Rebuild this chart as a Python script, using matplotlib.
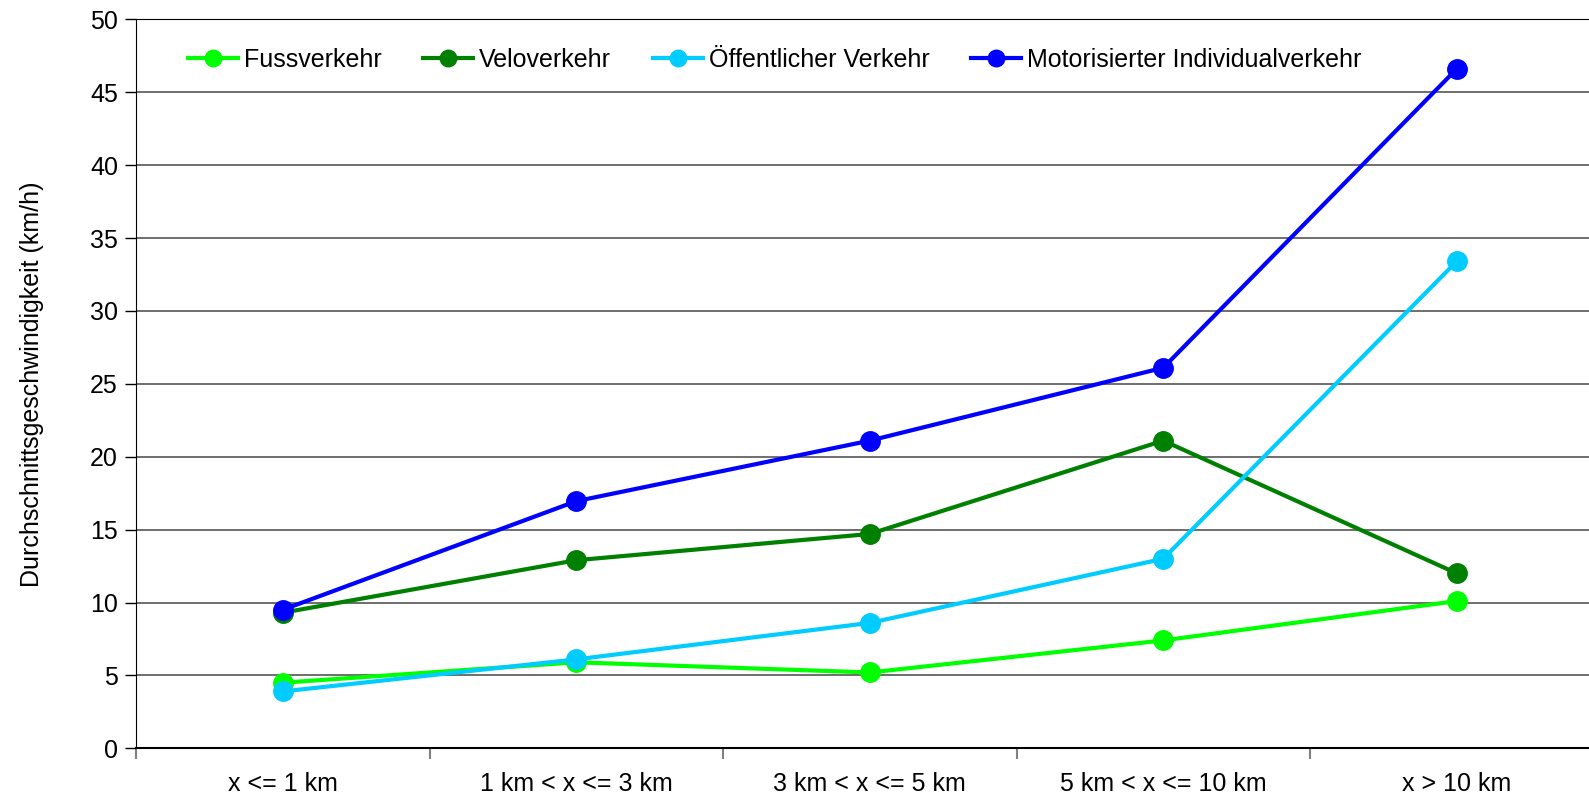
import matplotlib
matplotlib.use("Agg")
import matplotlib.pyplot as plt
import numpy as np

categories = ["x <= 1 km", "1 km < x <= 3 km", "3 km < x <= 5 km", "5 km < x <= 10 km", "x > 10 km"]
fuss = [4.5, 5.9, 5.2, 7.4, 10.1]
velo = [9.3, 12.9, 14.7, 21.1, 12.0]
oev = [3.9, 6.1, 8.6, 13.0, 33.4]
miv = [9.5, 16.95, 21.1, 26.1, 46.6]

series_names = ["Fussverkehr", "Veloverkehr", "Öffentlicher Verkehr", "Motorisierter Individualverkehr"]
series_vals = [fuss, velo, oev, miv]
colors = ["#00ff00", "#008000", "#00ccff", "#0000ff"]

plt.rcParams['font.family'] = ['Liberation Sans', 'DejaVu Sans']

fig = plt.figure(figsize=(15.89, 8.02), dpi=100)
ax = fig.add_axes([136/1589, 1 - 748.3/802, (1603.5 - 136)/1589, (748.3 - 19.3)/802])

x = np.arange(len(categories)) + 0.5
for name, vals, c in zip(series_names, series_vals, colors):
    ax.plot(x, vals, color=c, lw=3, marker='o', markersize=14, label=name, zorder=3)

ax.set_xlim(0, len(categories))
ax.set_ylim(0, 50)
ax.set_yticks(np.arange(0, 51, 5))
ax.yaxis.grid(True, color='#555555', lw=1.2)
ax.set_axisbelow(True)

# category boundary ticks
ax.set_xticks(np.arange(0, len(categories)))
ax.set_xticklabels([])
ax.set_xticks(x, minor=True)
ax.set_xticklabels(categories, minor=True)
ax.tick_params(axis='x', which='major', length=8, color='#808080', width=1.5)
ax.tick_params(axis='x', which='minor', length=0, pad=17, labelsize=18)
ax.tick_params(axis='y', length=8, width=1, labelsize=18, pad=5)

ax.spines['right'].set_visible(False)
ax.spines['bottom'].set_linewidth(1.5)

ax.set_ylabel("Durchschnittsgeschwindigkeit (km/h)", fontsize=18, labelpad=33)

ax.legend(loc='upper left', bbox_to_anchor=(0.02, 0.992), ncol=4, frameon=False,
          fontsize=18, handlelength=2.0, handletextpad=0.25, columnspacing=1.65,
          markerscale=0.85)

fig.savefig("out.png", dpi=100)
